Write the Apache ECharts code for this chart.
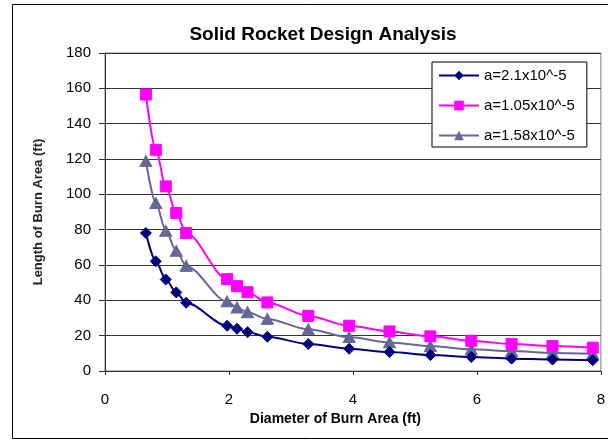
<!DOCTYPE html>
<html>
<head>
<meta charset="utf-8">
<script src="https://cdn.jsdelivr.net/npm/echarts@6/dist/echarts.min.js"></script>
<style>html,body{margin:0;padding:0;background:#fff}#c{width:608px;height:440px}</style>
</head>
<body>
<div id="c"></div>
<script>
var diameters = [0.66, 0.82, 0.98, 1.15, 1.31, 1.97, 2.13, 2.30, 2.62, 3.28, 3.94, 4.59, 5.25, 5.91, 6.56, 7.22, 7.87];
var seriesNames = ['a=2.1x10^-5', 'a=1.05x10^-5', 'a=1.58x10^-5'];
var lenA = [78.1, 62.1, 51.8, 44.5, 38.6, 25.6, 23.9, 22.0, 19.4, 15.3, 12.6, 10.7, 9.0, 7.9, 7.0, 6.5, 6.1];
var lenB = [156.5, 125.2, 104.5, 89.4, 78.1, 52.0, 48.0, 44.6, 38.8, 31.2, 25.6, 22.4, 19.6, 17.1, 15.3, 14.1, 13.2];
var lenC = [118.8, 95.1, 79.4, 68.0, 59.5, 39.4, 36.0, 33.3, 29.5, 23.6, 19.2, 16.2, 14.1, 12.3, 11.3, 10.2, 9.8];
var xTicks = [0, 2, 4, 6, 8];
var yTicks = [0, 20, 40, 60, 80, 100, 120, 140, 160, 180];

function pairs(xs, ys) { return xs.map(function (x, i) { return [x, ys[i]]; }); }

var font = 'Liberation Sans, Arial, sans-serif';
var chart = echarts.init(document.getElementById('c'), null, { renderer: 'canvas' });
var colors = ['#000080', '#FF00FF', '#666699'];
var symbols = ['diamond', 'rect', 'triangle'];
var sizes = [11, 11, [12, 11]];
var datas = [lenA, lenB, lenC];

chart.setOption({
  animation: false,
  backgroundColor: '#fff',
  title: {
    text: 'Solid Rocket Design Analysis',
    left: 318, top: 20, textAlign: 'center',
    textStyle: { fontFamily: font, fontSize: 19, fontWeight: 'bold', color: '#000' }
  },
  graphic: [{
    type: 'rect', silent: true, z: -1,
    shape: { x: 12.5, y: 4.5, width: 600, height: 434 },
    style: { fill: 'none', stroke: '#000', lineWidth: 1 }
  }],
  legend: {
    orient: 'vertical', left: 432, top: 62,
    padding: [6, 12, 4, 6], itemGap: 15, itemWidth: 40, itemHeight: 12,
    backgroundColor: '#fff', borderColor: '#000', borderWidth: 1,
    textStyle: { fontFamily: font, fontSize: 15, color: '#000' },
    data: seriesNames
  },
  grid: { left: 105, right: 4, top: 53, bottom: 69, show: true, borderColor: '#808080', borderWidth: 1, containLabel: false },
  xAxis: {
    type: 'value', min: xTicks[0], max: xTicks[xTicks.length - 1], interval: 2,
    name: 'Diameter of Burn Area (ft)', nameLocation: 'middle', nameGap: 38,
    nameTextStyle: { fontFamily: font, fontSize: 14, fontWeight: 'bold', color: '#000', padding: [0, 35, 0, 0] },
    axisLine: { lineStyle: { color: '#333', width: 1 } },
    axisTick: { show: true, inside: false, length: 4, lineStyle: { color: '#333' } },
    axisLabel: { fontFamily: font, fontSize: 15, color: '#000', margin: 21 },
    splitLine: { show: false }
  },
  yAxis: {
    type: 'value', min: yTicks[0], max: yTicks[yTicks.length - 1], interval: 20,
    name: 'Length of Burn Area (ft)', nameLocation: 'middle', nameGap: 60, nameRotate: 90,
    nameTextStyle: { fontFamily: font, fontSize: 13, fontWeight: 'bold', color: '#222' },
    axisLine: { show: true, lineStyle: { color: '#333', width: 1 } },
    axisTick: { show: true, inside: false, length: 6, lineStyle: { color: '#333' } },
    axisLabel: { fontFamily: font, fontSize: 15, color: '#000', margin: 14 },
    splitLine: { show: true, lineStyle: { color: '#333', width: 1 } }
  },
  series: seriesNames.map(function (n, i) {
    return {
      name: n, type: 'line', data: pairs(diameters, datas[i]),
      smooth: 0.3, smoothMonotone: 'x',
      symbol: symbols[i], symbolSize: sizes[i], showAllSymbol: true,
      lineStyle: { color: colors[i], width: 2 },
      itemStyle: { color: colors[i], borderColor: colors[i] },
      z: 3 - i
    };
  })
});
</script>
</body>
</html>
